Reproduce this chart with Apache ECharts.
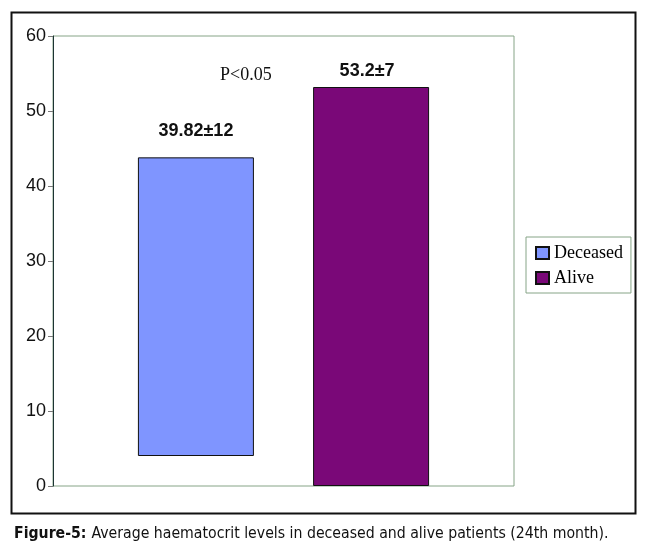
<!DOCTYPE html>
<html>
<head>
	<meta charset="utf-8">
	<script src="https://cdn.jsdelivr.net/npm/echarts@6/dist/echarts.min.js"></script>
	<style>
		html,body{margin:0;padding:0;background:#fff;}
	</style>
</head>
<body>
	<div id="main" style="width:650px;height:556px;"></div>
</body>
<script type="text/javascript">
// values
var groups = ['24th month'];
var seriesNames = ['Deceased', 'Alive'];
var deceasedBase = [4];          // the deceased bar floats, it starts near 4
var deceasedValue = [39.82];
var aliveValue = [53.2];
var barLabels = ['39.82±12', '53.2±7'];
var yTicks = {min: 0, max: 60, interval: 10};
var pText = 'P<0.05';
var caption = 'Average haematocrit levels in deceased and alive patients (24th month).';

var gridGreen = '#86a487';

var option = {
	animation: false,
	backgroundColor: '#fff',
	title: {
		left: 9,
		top: 520,
		text: '{b|Figure-5:} {n|' + caption + '}',
		textStyle: {
			rich: {
				b: {fontFamily: 'DejaVu Sans Condensed', fontWeight: 'bold', fontSize: 15.7, color: '#111'},
				n: {fontFamily: 'DejaVu Sans Condensed', fontWeight: 'normal', fontSize: 15.7, color: '#111'}
			}
		}
	},
	grid: {
		left: 53,
		top: 36,
		width: 461,
		height: 450,
		show: true,
		borderColor: gridGreen,
		borderWidth: 1,
		backgroundColor: '#fff'
	},
	legend: {
		data: seriesNames,
		orient: 'vertical',
		left: 526,
		top: 237,
		icon: 'rect',
		itemWidth: 13,
		itemHeight: 12,
		itemGap: 7,
		padding: [7, 8, 6, 9],
		borderColor: gridGreen,
		borderWidth: 1,
		textStyle: {
			fontFamily: 'Liberation Serif',
			fontSize: 18,
			lineHeight: 18,
			color: '#000'
		}
	},
	xAxis: {
		type: 'category',
		data: groups,
		axisLine: {show: false},
		axisTick: {show: false},
		axisLabel: {show: false}
	},
	yAxis: {
		type: 'value',
		min: yTicks.min,
		max: yTicks.max,
		interval: yTicks.interval,
		axisLine: {show: true, lineStyle: {color: '#1d3434', width: 1}},
		axisTick: {show: true, length: 5, lineStyle: {color: '#777'}},
		splitLine: {show: false},
		axisLabel: {
			margin: 7,
			fontFamily: 'Liberation Sans',
			fontSize: 18,
			color: '#111'
		}
	},
	series: [
		{
			name: 'base',
			type: 'bar',
			stack: 'd',
			data: deceasedBase,
			barWidth: 116,
			barGap: '51%',
			itemStyle: {color: 'rgba(0,0,0,0)'},
			emphasis: {disabled: true},
			silent: true
		},
		{
			name: seriesNames[0],
			type: 'bar',
			stack: 'd',
			data: deceasedValue,
			barWidth: 116,
			barGap: '51%',
			itemStyle: {color: '#7f95ff', borderColor: '#111', borderWidth: 1},
			label: {
				show: true,
				position: 'top',
				distance: 17,
				formatter: function () { return barLabels[0]; },
				fontFamily: 'Liberation Sans',
				fontWeight: 'bold',
				fontSize: 18,
				color: '#111'
			}
		},
		{
			name: seriesNames[1],
			type: 'bar',
			data: aliveValue,
			barWidth: 116,
			barGap: '51%',
			itemStyle: {color: '#7a0878', borderColor: '#111', borderWidth: 1},
			label: {
				show: true,
				position: 'top',
				distance: 7,
				offset: [-4, 0],
				formatter: function () { return barLabels[1]; },
				fontFamily: 'Liberation Sans',
				fontWeight: 'bold',
				fontSize: 18,
				color: '#111'
			}
		}
	],
	graphic: [
		{
			type: 'rect',
			left: 9,
			top: 10,
			shape: {width: 624, height: 501},
			style: {fill: 'none', stroke: '#111', lineWidth: 2},
			silent: true,
			z: -1
		},
		{
			type: 'text',
			left: 220,
			top: 66,
			style: {
				text: pText,
				fontFamily: 'Liberation Serif',
				fontSize: 18,
				fill: '#111'
			}
		}
	]
};

var myChart = echarts.init(document.getElementById('main'));
myChart.setOption(option);
</script>
</html>
